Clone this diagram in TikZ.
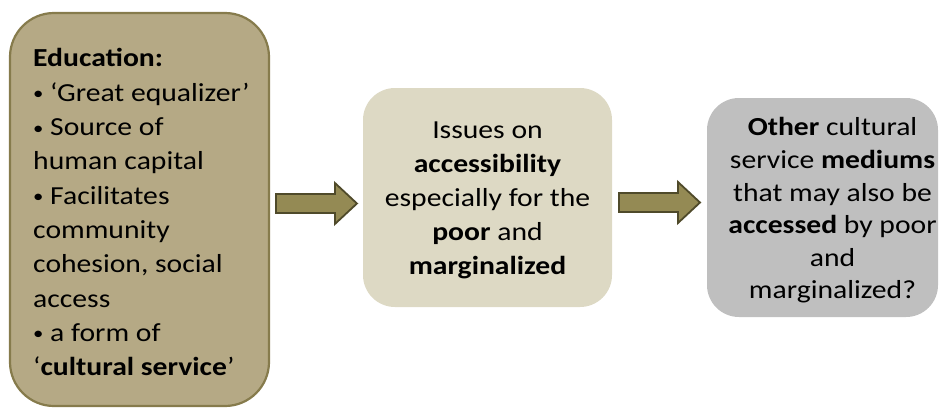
\documentclass[tikz,border=0pt]{standalone}
\usepackage{fontspec}
\setmainfont{Carlito}[FakeStretch=1.14]
\usetikzlibrary{calc}

\definecolor{tanfill}{HTML}{B5A985}
\definecolor{tanedge}{HTML}{867B4C}
\definecolor{palefill}{HTML}{DDD9C4}
\definecolor{greyfill}{HTML}{BFBFBF}
\definecolor{arrowfill}{HTML}{948A54}
\definecolor{arrowedge}{HTML}{4F4A2A}

\newcommand\dotmark{\raisebox{0.12ex}{\scalebox{0.7}{•}}}

\tikzset{
  panel/.style={rounded corners=#1, inner sep=0pt},
  bodytext/.style={font=\fontsize{26}{34.3}\selectfont, inner sep=0pt},
  blockarrow/.style={draw=arrowedge, fill=arrowfill, line width=1.8pt, line join=miter}
}

\begin{document}
\begin{tikzpicture}[x=1pt, y=-1pt]
  \useasboundingbox (0,0) rectangle (942,410);

  % the three boxes
  \node[panel=44pt, draw=tanedge, line width=2.2pt, fill=tanfill,
        minimum width=259pt, minimum height=393pt] (edu) at (139.5,209.5) {};
  \node[panel=32pt, fill=palefill, minimum width=249pt, minimum height=219pt]
        (issues) at (487.5,197.5) {};
  \node[panel=32pt, fill=greyfill, minimum width=231pt, minimum height=219pt]
        (other) at (822.5,207.5) {};

  % box contents
  \node[bodytext, align=left, anchor=north west] (edutext) at (33,48.5)
    {\textbf{Education:}\\
     \dotmark{} ‘Great equalizer’\\
     \dotmark{} Source of\\
     human capital\\
     \dotmark{} Facilitates\\
     community\\
     cohesion, social\\
     access\\
     \dotmark{} a form of\\
     ‘\textbf{cultural service}’};
  \node[bodytext, align=center, font=\fontsize{26}{34}\selectfont]
    (issuestext) at ($(issues.center)+(0,3)$)
    {Issues on\\
     \textbf{accessibility}\\
     especially for the\\
     \textbf{poor} and\\
     \textbf{marginalized}};
  \node[bodytext, align=center, font=\fontsize{26}{32.6}\selectfont]
    (othertext) at ($(other.center)+(10,3)$)
    {\textbf{Other} cultural\\
     service \textbf{mediums}\\
     that may also be\\
     \textbf{accessed} by poor\\
     and\\
     marginalized?};

  % block arrows between the boxes
  \coordinate (midA) at ($(edu.east)!0.5!(issues.west)$ |- 0,202.5);
  \coordinate (midB) at ($(issues.east)!0.5!(other.west)$ |- 0,202.5);
  \foreach \m in {midA,midB}{
    \draw[blockarrow]
      ($(\m)+(-40.5,-9.5)$) -- ($(\m)+(18.5,-9.5)$) -- ($(\m)+(18.5,-20.5)$)
      -- ($(\m)+(40.5,0)$)
      -- ($(\m)+(18.5,20.5)$) -- ($(\m)+(18.5,9.5)$) -- ($(\m)+(-40.5,9.5)$) -- cycle;
  }
\end{tikzpicture}
\end{document}
